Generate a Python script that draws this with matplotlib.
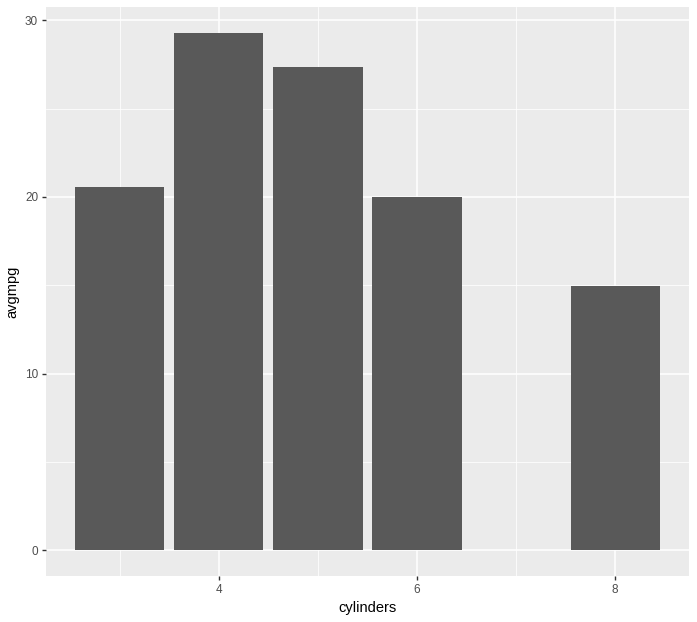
import matplotlib
matplotlib.use("Agg")
import matplotlib.pyplot as plt
from matplotlib.ticker import MultipleLocator

cylinders = [3, 4, 5, 6, 8]
avgmpg = [20.55, 29.29, 27.37, 19.99, 14.96]
x_ticks = [4, 6, 8]
y_ticks = [0, 10, 20, 30]

plt.rcParams['font.family'] = ['Liberation Sans', 'DejaVu Sans']

W, H = 697, 622
fig = plt.figure(figsize=(W / 100, H / 100), dpi=100)
ax = fig.add_axes([46 / W, (H - 576) / H, 643 / W, 569 / H])
ax.set_facecolor('#EBEBEB')

ax.bar(cylinders, avgmpg, width=0.9, color='#595959', zorder=3)

ax.set_xlim(2.255, 8.745)
ax.set_ylim(-1.464, 30.75)
ax.set_xticks(x_ticks)
ax.set_yticks(y_ticks)
ax.xaxis.set_minor_locator(MultipleLocator(1))
ax.yaxis.set_minor_locator(MultipleLocator(5))

ax.grid(which='major', color='white', linewidth=1.1, zorder=1)
ax.grid(which='minor', color='white', linewidth=0.55, zorder=1)
ax.set_axisbelow(True)

for s in ax.spines.values():
    s.set_visible(False)

ax.tick_params(which='major', length=3.2, width=1.0, color='#333333',
               labelcolor='#4D4D4D', labelsize=8.5, pad=2.5)
ax.tick_params(which='minor', length=0)

ax.set_xlabel('cylinders', fontsize=10.5, color='black', labelpad=4)
ax.set_ylabel('avgmpg', fontsize=10.5, color='black', labelpad=4)

fig.savefig('out.png', dpi=100)
